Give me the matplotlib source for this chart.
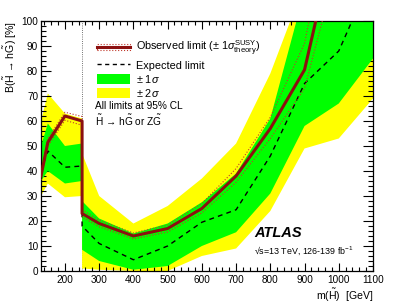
import matplotlib
matplotlib.use("Agg")
import matplotlib.pyplot as plt
from matplotlib.lines import Line2D
from matplotlib.patches import Patch, Rectangle
from matplotlib.legend_handler import HandlerBase
from matplotlib.ticker import MultipleLocator

plt.rcParams['font.family'] = ['Liberation Sans', 'DejaVu Sans']
plt.rcParams['mathtext.fontset'] = 'custom'
plt.rcParams['mathtext.rm'] = 'Liberation Sans'
plt.rcParams['mathtext.it'] = 'Liberation Sans:italic'
plt.rcParams['mathtext.bf'] = 'Liberation Sans:bold'

# ---- data ----
mass = [130, 150, 200, 250, 250, 300, 400, 500, 600, 700, 800, 900, 1000, 1100]
expected = [40, 48, 41.5, 42, 18, 11, 4.5, 10, 19.5, 24.5, 46, 75, 88, 119]
green_lo = [36, 40, 35, 36, 8.5, 4, 0.5, 2, 10, 15.5, 31, 58, 67, 85]
green_hi = [50, 59, 50, 51, 28, 21, 15, 19, 27.5, 39, 61, 112, 130, 150]
yellow_lo = [30, 35, 29.5, 30, 1, 0.5, 0, 0, 6, 9, 24, 49, 53, 69]
yellow_hi = [60, 71, 63, 61, 47, 30, 19, 26, 37, 51, 79, 115, 140, 160]

obs_mass = [130, 150, 200, 250, 250, 300, 400, 500, 600, 700, 800, 900, 1000]
observed = [38, 51.5, 62, 60, 23, 19, 14, 17, 25, 38, 57, 80.5, 140]
obs_up = [39.5, 53, 63.5, 61.8, 24.5, 20.3, 15.2, 18.4, 27, 41, 61.5, 91, 160]
obs_dn = [36.5, 50, 60.3, 58.3, 21.6, 17.7, 12.8, 15.6, 23.2, 35.5, 53, 73, 125]

x_ticks = [200, 300, 400, 500, 600, 700, 800, 900, 1000, 1100]
y_ticks = [0, 10, 20, 30, 40, 50, 60, 70, 80, 90, 100]

obs_col = '#8c1010'
dot_col = '#c0392b'
green = '#00ff00'
yellow = '#ffff00'

fig = plt.figure(figsize=(4.15, 3.03), dpi=100)
ax = fig.add_axes([41/415, 32/303, 332/415, 250/303])

ax.axvline(250, color='#444444', ls=':', lw=0.6, zorder=0.5)
ax.fill_between(mass, yellow_lo, yellow_hi, color=yellow, lw=0, zorder=1)
ax.fill_between(mass, green_lo, green_hi, color=green, lw=0, zorder=2)
ax.plot(mass, expected, color='black', ls=(0, (3.5, 3)), lw=1.0, zorder=3)
ax.plot(obs_mass, obs_up, color=dot_col, ls=':', lw=0.8, zorder=4)
ax.plot(obs_mass, obs_dn, color=dot_col, ls=':', lw=0.8, zorder=4)
ax.plot(obs_mass, observed, color=obs_col, lw=2.2, zorder=5)

ax.set_xlim(130, 1100)
ax.set_ylim(0, 100)
ax.set_xticks(x_ticks)
ax.set_yticks(y_ticks)
ax.xaxis.set_minor_locator(MultipleLocator(20))
ax.yaxis.set_minor_locator(MultipleLocator(2))
ax.tick_params(which='both', direction='in', top=True, right=True, labelsize=7.2, width=0.8)
ax.tick_params(axis='y', which='major', length=7)
ax.tick_params(axis='y', which='minor', length=3.5)
ax.tick_params(axis='x', which='major', length=5.5)
ax.tick_params(axis='x', which='minor', length=3)
ax.tick_params(axis='x', pad=3)
ax.tick_params(axis='y', pad=2)
for s in ax.spines.values():
    s.set_linewidth(0.9)

ax.set_xlabel(r'm($\tilde{\mathrm{H}}$)  [GeV]', loc='right', fontsize=7.6, labelpad=1)
ax.set_ylabel(r'B($\tilde{\mathrm{H}}\,\rightarrow\,\mathrm{h}\tilde{\mathrm{G}}$) [%]', loc='top', fontsize=7.6, labelpad=2)


class ObsHandler(HandlerBase):
    def create_artists(self, legend, orig_handle, xdescent, ydescent, width, height, fontsize, trans):
        y = height / 2 - ydescent
        rect = Rectangle((-xdescent, y - 2.0), width, 4.0, fill=False, ec=dot_col, ls=':', lw=0.8, transform=trans)
        line = Line2D([-xdescent, width - xdescent], [y, y], color=obs_col, lw=2.2, transform=trans)
        return [rect, line]


obs_handle = Line2D([], [], color=obs_col)
exp_handle = Line2D([], [], color='black', ls=(0, (3, 2.5)), lw=1.0)
g_handle = Patch(color=green, lw=0)
y_handle = Patch(color=yellow, lw=0)
leg = ax.legend([obs_handle, exp_handle, g_handle, y_handle],
                [r'Observed limit ($\pm$ 1$\sigma^{\mathrm{SUSY}}_{\mathrm{theory}}$)', 'Expected limit',
                 r'$\pm$ 1$\sigma$', r'$\pm$ 2$\sigma$'],
                handler_map={obs_handle: ObsHandler()},
                loc='upper left', bbox_to_anchor=(0.168, 0.93), frameon=False,
                fontsize=7.8, handlelength=3.1, handleheight=1.0, labelspacing=0.2,
                handletextpad=0.5, borderaxespad=0, borderpad=0)

ax.text(0.163, 0.66, 'All limits at 95% CL', transform=ax.transAxes, fontsize=7.3, va='center')
ax.text(0.163, 0.604, r'$\tilde{\mathrm{H}}\,\rightarrow\,\mathrm{h}\tilde{\mathrm{G}}$ or Z$\tilde{\mathrm{G}}$',
        transform=ax.transAxes, fontsize=7.3, va='center')

ax.text(0.642, 0.152, 'ATLAS', transform=ax.transAxes, fontsize=10.5, fontweight='bold', fontstyle='italic', va='center')
ax.text(0.642, 0.08, '\u221as=13 TeV, 126-139 fb$^{-1}$', transform=ax.transAxes, fontsize=6.4, va='center')

fig.savefig('out.png', dpi=100)
